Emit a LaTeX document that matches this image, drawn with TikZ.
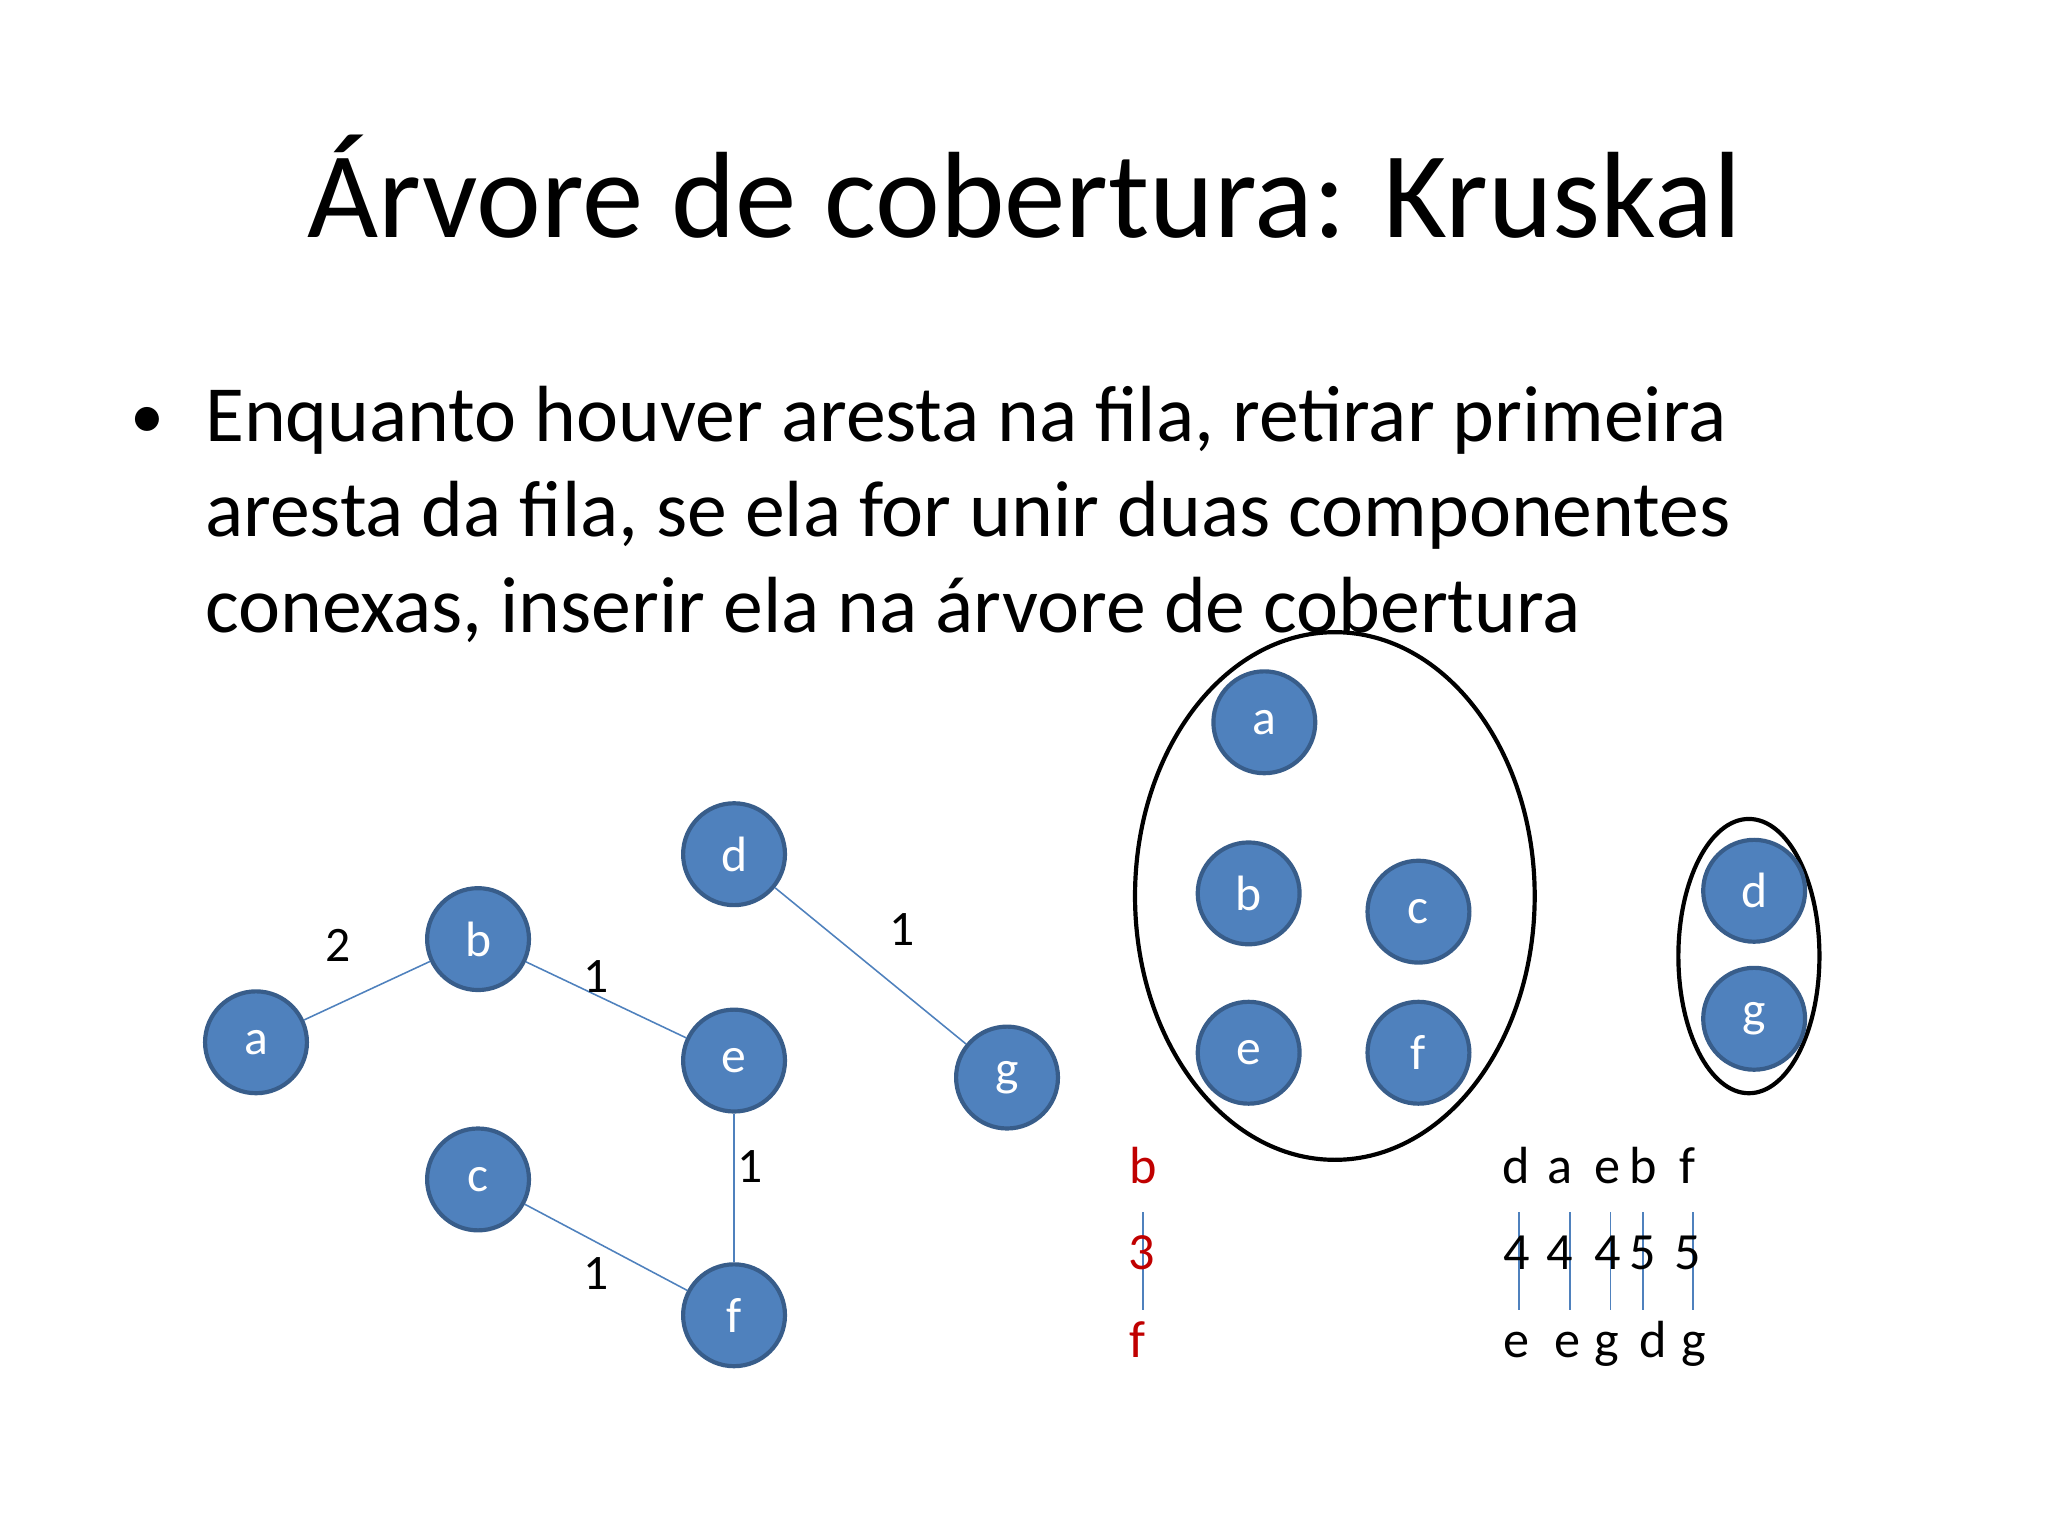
\documentclass[tikz,border=0pt]{standalone}
\usepackage{fontspec}
\setmainfont{Carlito}
\definecolor{nfill}{RGB}{79,129,189}
\definecolor{nbord}{RGB}{56,93,138}
\definecolor{redq}{RGB}{192,0,0}
\begin{document}
\begin{tikzpicture}[x=0.5pt,y=-0.5pt,
  vert/.style={circle,fill=nfill,draw=nbord,line width=1.6pt,minimum size=39pt,inner sep=0pt,text=white,font=\fontsize{19}{19}\selectfont},
  edge/.style={draw=nfill,line width=0.6pt},
  wlab/.style={font=\fontsize{19}{19}\selectfont},
  qlab/.style={font=\fontsize{20}{20}\selectfont,anchor=base},
  grp/.style={draw=black,line width=1.6pt}]
\useasboundingbox (0,0) rectangle (1568,1176);
\node[font=\fontsize{47}{47}\selectfont] (title) at (784,143) {Árvore de cobertura: Kruskal};
\node[font=\fontsize{26}{26}\selectfont,anchor=base] (bul) at (113,336) {•};
\node[font=\fontsize{30.5}{30.5}\selectfont,anchor=base west] (l1) at (150,338) {Enquanto houver aresta na fila, retirar primeira};
\node[font=\fontsize{30.5}{30.5}\selectfont,anchor=base west] (l2) at (150,411) {aresta da fila, se ela for unir duas componentes};
\node[font=\fontsize{30.5}{30.5}\selectfont,anchor=base west] (l3) at (150,484) {conexas, inserir ela na árvore de cobertura};
% graph
\node[vert] (a) at (196,798) {a};
\node[vert] (b) at (366,719) {b};
\node[vert] (d) at (562,654) {d};
\node[vert] (e) at (562,812) {e};
\node[vert] (g) at (771,825) {g};
\node[vert] (c) at (366,903) {c};
\node[vert] (f) at (562,1007) {f};
\draw[edge] (a) -- (b);
\draw[edge] (b) -- (e);
\draw[edge] (d) -- (g);
\draw[edge] (e) -- (f);
\draw[edge] (c) -- (f);
\node[wlab] (w1) at (259,724) {2};
\node[wlab] (w2) at (456,748) {1};
\node[wlab] (w3) at (691,712) {1};
\node[wlab] (w4) at (574,893) {1};
\node[wlab] (w5) at (456,975) {1};
% components
\draw[grp] (1022,686) ellipse [x radius=153,y radius=202];
\draw[grp] (1339,732) ellipse [x radius=54,y radius=105];
\node[vert] (a2) at (968,553) {a};
\node[vert] (b2) at (956,684) {b};
\node[vert] (c2) at (1086,698) {c};
\node[vert] (e2) at (956,806) {e};
\node[vert] (f2) at (1086,806) {f};
\node[vert] (d2) at (1343,682) {d};
\node[vert] (g2) at (1343,780) {g};
% current edge
\draw[edge] (875,928) -- (875,1003);
\node[qlab,text=redq] (rb) at (875,906) {b};
\node[qlab,text=redq] (r3) at (874,972) {3};
\node[qlab,text=redq] (rf) at (871,1039) {f};
% queue
\foreach \x in {1163,1202,1233,1258,1296}{\draw[edge] (\x,928) -- (\x,1003);}
\foreach \x/\u/\w in {1161/d/4,1194/a/4,1231/e/4,1258/b/5,1292/f/5}{
  \node[qlab] at (\x,906) {\u};
  \node[qlab] at (\x,972) {\w};}
\foreach \x/\v in {1161/e,1200/e,1230/g,1266/d,1297/g}{
  \node[qlab] at (\x,1039) {\v};}
\end{tikzpicture}
\end{document}
